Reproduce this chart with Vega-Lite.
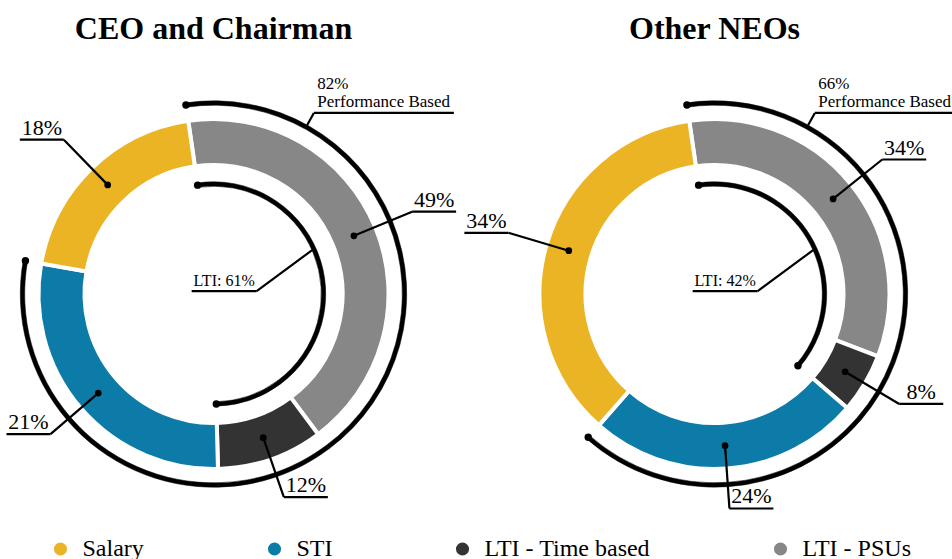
{
  "$schema": "https://vega.github.io/schema/vega-lite/v6.json",
  "padding": {"left": 0.5, "top": 13, "right": 0, "bottom": 0},
  "autosize": {"type": "pad"},
  "bounds": "flush",
  "data": {"values": [
    {"group": "CEO and Chairman", "component": "LTI - PSUs", "rank": 1, "share": 42.1, "pct": 49},
    {"group": "CEO and Chairman", "component": "LTI - Time based", "rank": 2, "share": 9.8, "pct": 12},
    {"group": "CEO and Chairman", "component": "STI", "rank": 3, "share": 28.2, "pct": 21},
    {"group": "CEO and Chairman", "component": "Salary", "rank": 4, "share": 19.9, "pct": 18},
    {"group": "Other NEOs", "component": "LTI - PSUs", "rank": 1, "share": 33.1, "pct": 34},
    {"group": "Other NEOs", "component": "LTI - Time based", "rank": 2, "share": 5.5, "pct": 8},
    {"group": "Other NEOs", "component": "STI", "rank": 3, "share": 25.2, "pct": 24},
    {"group": "Other NEOs", "component": "Salary", "rank": 4, "share": 36.2, "pct": 34}
  ]},
  "transform": [
    {"stack": "share", "groupby": ["group"], "sort": [{"field": "rank", "order": "ascending"}], "as": ["s0", "s1"]},
    {"calculate": "-0.14486 + 2 * PI * datum.s0 / 100", "as": "aStart"},
    {"calculate": "-0.14486 + 2 * PI * datum.s1 / 100", "as": "aEnd"},
    {"calculate": "(datum.aStart + datum.aEnd) / 2", "as": "aMid"},
    {"calculate": "sin(datum.aMid) >= 0 ? 1 : -1", "as": "side"},
    {"calculate": "152 * sin(datum.aMid)", "as": "dotX"},
    {"calculate": "-152 * cos(datum.aMid)", "as": "dotY"},
    {"calculate": "215 * sin(datum.aMid)", "as": "elbX"},
    {"calculate": "-215 * cos(datum.aMid)", "as": "elbY"},
    {"calculate": "datum.elbX + 44 * datum.side", "as": "ulX"},
    {"calculate": "datum.elbX + 22 * datum.side", "as": "txtX"},
    {"calculate": "datum.elbY - 5", "as": "txtY"},
    {"calculate": "datum.pct + '%'", "as": "pctLabel"},
    {"calculate": "datum.component == 'Salary' ? 0 : datum.pct", "as": "perfPart"},
    {"calculate": "indexof(datum.component, 'LTI') == 0 ? datum.pct : 0", "as": "ltiPart"},
    {"joinaggregate": [
      {"op": "sum", "field": "perfPart", "as": "perfTotal"},
      {"op": "sum", "field": "ltiPart", "as": "ltiTotal"}
    ], "groupby": ["group"]}
  ],
  "facet": {
    "column": {
      "field": "group", "type": "nominal", "title": null,
      "sort": ["CEO and Chairman", "Other NEOs"],
      "header": {"labelFont": "Liberation Serif", "labelFontSize": 32, "labelFontWeight": "bold", "labelColor": "black", "labelPadding": 20, "labelBaseline": "alphabetic", "labelAnchor": "middle"}
    }
  },
  "spacing": {"column": 75},
  "spec": {
    "width": 426,
    "height": 406,
    "layer": [
      {
        "mark": {"type": "arc", "outerRadius": 175, "innerRadius": 129, "stroke": "white", "strokeWidth": 4},
        "encoding": {
          "theta": {"field": "s0", "type": "quantitative", "stack": null, "scale": {"domain": [0, 100], "range": [-0.14486, 6.13833]}},
          "theta2": {"field": "s1"},
          "color": {
            "field": "component", "type": "nominal",
            "scale": {"domain": ["Salary", "STI", "LTI - Time based", "LTI - PSUs"], "range": ["#EAB425", "#0D7BA7", "#333333", "#878787"]},
            "legend": {
              "title": null, "orient": "none", "legendX": 48, "legendY": 446, "direction": "horizontal",
              "labelFont": "Liberation Serif", "labelFontSize": 24
            }
          }
        }
      },
      {
        "mark": {"type": "arc", "outerRadius": 193.2, "innerRadius": 188.8, "fill": "black", "stroke": "black", "strokeWidth": 0.5},
        "encoding": {
          "theta": {"field": "s0", "type": "quantitative", "stack": null},
          "theta2": {"field": "s1"},
          "opacity": {"condition": {"test": "datum.component == 'Salary'", "value": 0}, "value": 1}
        }
      },
      {
        "mark": {"type": "arc", "outerRadius": 112.2, "innerRadius": 107.8, "fill": "black", "stroke": "black", "strokeWidth": 0.5},
        "encoding": {
          "theta": {"field": "s0", "type": "quantitative", "stack": null},
          "theta2": {"field": "s1"},
          "opacity": {"condition": {"test": "indexof(datum.component, 'LTI') == 0", "value": 1}, "value": 0}
        }
      },
      {
        "transform": [
          {"calculate": "datum.component == 'LTI - PSUs' ? datum.aStart : (datum.component == 'STI' ? datum.aEnd : null)", "as": "outerEnd"},
          {"calculate": "datum.component == 'LTI - PSUs' ? datum.aStart : (datum.component == 'LTI - Time based' ? datum.aEnd : null)", "as": "innerEnd"},
          {"fold": ["outerEnd", "innerEnd"], "as": ["ring", "ang"]},
          {"filter": "isValid(datum.ang)"},
          {"calculate": "(datum.ring == 'outerEnd' ? 191 : 110) * sin(datum.ang)", "as": "bx"},
          {"calculate": "-(datum.ring == 'outerEnd' ? 191 : 110) * cos(datum.ang)", "as": "by"}
        ],
        "mark": {"type": "point", "filled": true, "color": "black", "size": 55, "opacity": 1},
        "encoding": {
          "x": {"field": "bx", "type": "quantitative", "scale": {"domain": [-213, 213], "nice": false, "zero": false}, "axis": null},
          "y": {"field": "by", "type": "quantitative", "scale": {"domain": [-203, 203], "nice": false, "zero": false, "reverse": true}, "axis": null}
        }
      },
      {
        "mark": {"type": "rule", "color": "black", "strokeWidth": 2.2},
        "encoding": {
          "x": {"field": "dotX", "type": "quantitative"},
          "y": {"field": "dotY", "type": "quantitative"},
          "x2": {"field": "elbX"},
          "y2": {"field": "elbY"}
        }
      },
      {
        "mark": {"type": "rule", "color": "black", "strokeWidth": 2.2},
        "encoding": {
          "x": {"field": "elbX", "type": "quantitative"},
          "y": {"field": "elbY", "type": "quantitative"},
          "x2": {"field": "ulX"}
        }
      },
      {
        "mark": {"type": "point", "filled": true, "color": "black", "size": 45, "opacity": 1},
        "encoding": {
          "x": {"field": "dotX", "type": "quantitative"},
          "y": {"field": "dotY", "type": "quantitative"}
        }
      },
      {
        "mark": {"type": "text", "font": "Liberation Serif", "fontSize": 22, "color": "black", "align": "center", "baseline": "alphabetic"},
        "encoding": {
          "x": {"field": "txtX", "type": "quantitative"},
          "y": {"field": "txtY", "type": "quantitative"},
          "text": {"field": "pctLabel"}
        }
      },
      {
        "transform": [
          {"filter": "datum.component == 'LTI - PSUs'"},
          {"calculate": "193 * sin(0.50615)", "as": "px0"},
          {"calculate": "-193 * cos(0.50615)", "as": "py0"},
          {"calculate": "207 * sin(0.50615)", "as": "px1"},
          {"calculate": "-207 * cos(0.50615)", "as": "py1"},
          {"calculate": "datum.px1 + 140", "as": "px2"},
          {"calculate": "datum.px1 + 3.5", "as": "ptx"},
          {"calculate": "datum.py1 - 23.6", "as": "pty"},
          {"calculate": "[datum.perfTotal + '%', 'Performance Based']", "as": "perfText"},
          {"calculate": "98.66 - 55.5", "as": "lx1"},
          {"calculate": "-43.93 + 41.1", "as": "ly1"},
          {"calculate": "108 * sin(1.15192)", "as": "lx0"},
          {"calculate": "-108 * cos(1.15192)", "as": "ly0"},
          {"calculate": "datum.lx1 - 65", "as": "lx2"},
          {"calculate": "datum.lx1 - 32.5", "as": "ltx"},
          {"calculate": "datum.ly1 - 5", "as": "lty"},
          {"calculate": "'LTI: ' + datum.ltiTotal + '%'", "as": "ltiText"}
        ],
        "layer": [
          {
            "mark": {"type": "rule", "color": "black", "strokeWidth": 2.2},
            "encoding": {"x": {"field": "px0", "type": "quantitative"}, "y": {"field": "py0", "type": "quantitative"}, "x2": {"field": "px1"}, "y2": {"field": "py1"}}
          },
          {
            "mark": {"type": "rule", "color": "black", "strokeWidth": 2.2},
            "encoding": {"x": {"field": "px1", "type": "quantitative"}, "y": {"field": "py1", "type": "quantitative"}, "x2": {"field": "px2"}}
          },
          {
            "mark": {"type": "text", "font": "Liberation Serif", "fontSize": 17, "lineHeight": 18, "color": "black", "align": "left", "baseline": "alphabetic"},
            "encoding": {"x": {"field": "ptx", "type": "quantitative"}, "y": {"field": "pty", "type": "quantitative"}, "text": {"field": "perfText"}}
          },
          {
            "mark": {"type": "rule", "color": "black", "strokeWidth": 2.2},
            "encoding": {"x": {"field": "lx0", "type": "quantitative"}, "y": {"field": "ly0", "type": "quantitative"}, "x2": {"field": "lx1"}, "y2": {"field": "ly1"}}
          },
          {
            "mark": {"type": "rule", "color": "black", "strokeWidth": 2.2},
            "encoding": {"x": {"field": "lx1", "type": "quantitative"}, "y": {"field": "ly1", "type": "quantitative"}, "x2": {"field": "lx2"}}
          },
          {
            "mark": {"type": "text", "font": "Liberation Serif", "fontSize": 16, "color": "black", "align": "center", "baseline": "alphabetic"},
            "encoding": {"x": {"field": "ltx", "type": "quantitative"}, "y": {"field": "lty", "type": "quantitative"}, "text": {"field": "ltiText"}}
          }
        ]
      }
    ]
  },
  "config": {
    "view": {"stroke": null},
    "font": "Liberation Serif",
    "legend": {
      "symbolType": "circle", "symbolSize": 170, "symbolStrokeWidth": 0, "symbolOpacity": 1,
      "labelFont": "Liberation Serif", "labelFontSize": 24, "labelColor": "black", "labelLimit": 400,
      "columnPadding": 118, "labelOffset": 10, "padding": 0
    }
  }
}
